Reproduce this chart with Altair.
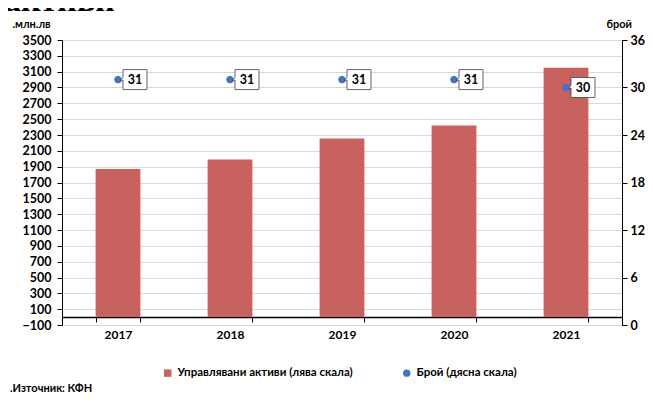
import altair as alt
import pandas as pd

# ---- data ----
years = ["2017", "2018", "2019", "2020", "2021"]
assets = [1870, 1990, 2255, 2420, 3150]
counts = [31, 31, 31, 31, 30]
left_ticks = list(range(-100, 3501, 200))
right_ticks = list(range(0, 37, 6))
series_bar = "Управлявани активи (лява скала)"
series_pt = "Брой (дясна скала)"
left_title = ".млн.лв"
right_title = "брой"
source_text = ".Източник: КФН"
top_title = "активи"

df = pd.DataFrame({"year": years, "assets": assets, "count": counts})

FONT = "Lato"
RED = "#C8625F"
BLUE = "#4472C4"
W, H = 560, 285

legend = alt.Legend(
    title=None, orient="none", legendX=100, legendY=327, direction="horizontal",
    labelFont=FONT, labelFontSize=11.5, labelFontWeight="bold", labelColor="black",
    symbolSize=55, symbolStrokeWidth=0, columnPadding=48, labelLimit=400,
)
color_scale = alt.Scale(domain=[series_bar, series_pt], range=[RED, BLUE])
shape_scale = alt.Scale(domain=[series_bar, series_pt], range=["square", "circle"])

x = alt.X(
    "year:N", title=None, sort=years,
    scale=alt.Scale(paddingInner=0.6, paddingOuter=0.3),
    axis=alt.Axis(
        offset=-8, tickBand="extent", tickSize=5, tickColor="black",
        domainColor="black", domainWidth=1.5, labelPadding=7, labelAngle=0,
        labelFont=FONT, labelFontSize=12, labelFontWeight="bold", labelColor="black",
    ),
)

y_left = alt.Y(
    "assets:Q", title=left_title,
    scale=alt.Scale(domain=[-100, 3500], nice=False, zero=False),
    axis=alt.Axis(
        values=left_ticks, format="d", grid=True, gridColor="#D9D9D9", gridWidth=1,
        domainColor="black", tickColor="black", tickSize=5, labelPadding=6,
        labelFont=FONT, labelFontSize=12.5, labelFontWeight="bold", labelColor="black",
        titleAngle=0, titleAlign="left", titleBaseline="alphabetic",
        titleX=-50, titleY=-13, titleFont=FONT, titleFontSize=11,
        titleFontWeight="bold", titleColor="black",
    ),
)

y_right = alt.Y(
    "count:Q", title=right_title,
    scale=alt.Scale(domain=[0, 36], nice=False, zero=False),
    axis=alt.Axis(
        orient="right", values=right_ticks, format="d", grid=False,
        domainColor="black", tickColor="black", tickSize=5, labelPadding=3,
        labelFont=FONT, labelFontSize=12.5, labelFontWeight="bold", labelColor="black",
        titleAngle=0, titleAlign="left", titleBaseline="alphabetic",
        titleX=-16, titleY=-13, titleFont=FONT, titleFontSize=11,
        titleFontWeight="bold", titleColor="black",
    ),
)

base = alt.Chart(df)

bars = base.transform_calculate(series=f'"{series_bar}"').mark_bar().encode(
    x=x, y=y_left,
    color=alt.Color("series:N", scale=color_scale, legend=legend),
)

pts = base.transform_calculate(series=f'"{series_pt}"').mark_point(
    filled=True, size=55, opacity=1
).encode(
    x=x, y=y_right,
    color=alt.Color("series:N", scale=color_scale, legend=legend),
    shape=alt.Shape("series:N", scale=shape_scale, legend=legend),
)

BOX = "M1,-2 L5.8,-2 L5.8,2 L1,2 L1,0.1 L0.45,0.35 L1,-0.5 Z"
boxes = base.mark_point(
    shape=BOX, size=100, filled=True, fill="white", stroke="#404040",
    strokeWidth=0.8, opacity=1,
).encode(x=x, y=y_right)

labels = base.mark_text(
    dx=17, font=FONT, fontSize=12.5, fontWeight="bold", color="black",
).encode(x=x, y=y_right, text="count:Q")

right = alt.layer(pts, boxes, labels)

src = alt.Chart(alt.Data(values=[{"t": source_text}])).mark_text(
    align="left", baseline="middle", font=FONT, fontSize=11,
    fontWeight="bold", color="black",
).encode(x=alt.value(-52), y=alt.value(349), text="t:N")

ttl = alt.Chart(alt.Data(values=[{"t": top_title}])).mark_text(
    align="left", baseline="alphabetic", font="Liberation Serif", fontSize=34,
    fontWeight="bold", color="black",
).encode(x=alt.value(-58), y=alt.value(-29), text="t:N")

chart = alt.layer(bars, right, src, ttl).resolve_scale(y="independent").properties(
    width=W, height=H,
    autosize=alt.AutoSizeParams(type="none"),
    padding={"left": 54, "top": 32, "right": 23, "bottom": 70},
).configure_view(strokeWidth=0).configure(background="white")

chart.save("out.html", embed_options={"renderer": "svg", "actions": False})
